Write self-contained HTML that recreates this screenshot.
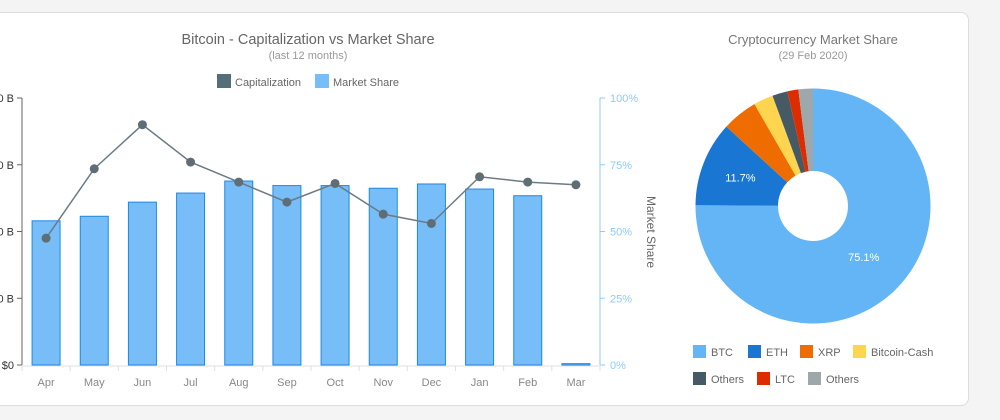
<!DOCTYPE html>
<html><head><meta charset="utf-8"><style>
html,body{margin:0;padding:0;background:#f4f4f4;width:1000px;height:420px;overflow:hidden;font-family:"Liberation Sans",sans-serif}
#card{position:absolute;left:-20px;top:12px;width:987px;height:392px;background:#fff;border:1px solid #ddd;border-radius:8px}
svg{position:absolute;left:0;top:0}
</style></head><body>
<div id="card"></div>
<svg id="s" width="1000" height="420"></svg>
<script>
const months=["Apr","May","Jun","Jul","Aug","Sep","Oct","Nov","Dec","Jan","Feb","Mar"];
const shareValues=[54,55.7,61,64.4,68.9,67.2,67.2,66.2,67.8,65.9,63.4,0.5];
const capValues=[95,147,180,152,137,122,136,113,106,141,137,135];
const capTicks=[0,50,100,150,200];
const capTickLabels=["$0","$50 B","$100 B","$150 B","$200 B"];
const shareTicks=[0,25,50,75,100];
const pieLabels=["BTC","ETH","XRP","Bitcoin-Cash","Others","LTC","Others"];
const pieValues=[75.1,11.7,4.9,2.7,2.1,1.5,2.0];
const pieColors=["#64b5f6","#1976d2","#ef6c00","#ffd54f","#455a64","#dd2c00","#9ea7aa"];

const s=document.getElementById('s');const NS='http://www.w3.org/2000/svg';
function mk(tag,a,txt){const e=document.createElementNS(NS,tag);for(const k in a)e.setAttribute(k,a[k]);if(txt!==undefined)e.textContent=txt;s.appendChild(e);return e;}
const X0=22,X1=600,Y0=365,Y1=98;const bw=(X1-X0)/months.length;
const xc=i=>X0+bw*(i+0.5);
const yL=v=>Y0-(v/200)*(Y0-Y1);
const yR=v=>Y0-(v/100)*(Y0-Y1);
let e;
e=mk('text',{x:308,y:44,'text-anchor':'middle','font-size':14.5,fill:'#666'},'Bitcoin - Capitalization vs Market Share');

e=mk('text',{x:308,y:59,'text-anchor':'middle','font-size':11,fill:'#999'},'(last 12 months)');

e=mk('rect',{x:217,y:74,width:14,height:14,fill:'#546e7a'});

e=mk('text',{x:235,y:86,'font-size':11,fill:'#666'},'Capitalization');

e=mk('rect',{x:315,y:74,width:14,height:14,fill:'#77bdf7'});

e=mk('text',{x:333,y:86,'font-size':11,fill:'#666'},'Market Share');

e=mk('line',{x1:X0,y1:Y1,x2:X0,y2:Y0,stroke:'#666','stroke-width':1});

capTicks.forEach((t,i)=>{mk('line',{x1:X0-5,x2:X0,y1:yL(t),y2:yL(t),stroke:'#666'});
e=mk('text',{x:X0-8,y:yL(t)+4,'text-anchor':'end','font-size':11,fill:'#333'},capTickLabels[i]);
});
e=mk('line',{x1:X1,y1:Y1,x2:X1,y2:Y0,stroke:'#90caf9','stroke-width':1});

shareTicks.forEach(t=>{mk('line',{x1:X1,x2:X1+5,y1:yR(t),y2:yR(t),stroke:'#90caf9'});
e=mk('text',{x:X1+10,y:yR(t)+4,'font-size':11,fill:'#90caf9'},t+'%');
});
e=mk('text',{x:647,y:232,'font-size':12,fill:'#666','text-anchor':'middle',transform:'rotate(90 647 232)'},'Market Share');

e=mk('line',{x1:X0,y1:Y0+1,x2:X1,y2:Y0+1,stroke:'#e0e0e0','stroke-width':1});

months.forEach((m,i)=>{mk('line',{x1:X0+bw*i,x2:X0+bw*i,y1:Y0+1,y2:Y0+6,stroke:'#e0e0e0'});
e=mk('text',{x:xc(i),y:Y0+21,'text-anchor':'middle','font-size':11,fill:'#888'},m);
});
mk('line',{x1:X1,x2:X1,y1:Y0+1,y2:Y0+6,stroke:'#e0e0e0'});
shareValues.forEach((v,i)=>{const y=yR(v);
e=mk('rect',{x:xc(i)-14,y:y,width:28,height:Math.max(Y0-y,1),fill:'#77bdf7',stroke:'#1e88e5','stroke-width':1});
});
e=mk('polyline',{points:capValues.map((v,i)=>xc(i)+','+yL(v)).join(' '),fill:'none',stroke:'#6b7b83','stroke-width':1.5});

capValues.forEach((v,i)=>{e=mk('circle',{cx:xc(i),cy:yL(v),r:4.5,fill:'#5f6e75'});
});
e=mk('text',{x:813,y:44,'text-anchor':'middle','font-size':13,fill:'#777'},'Cryptocurrency Market Share');

e=mk('text',{x:813,y:59,'text-anchor':'middle','font-size':11,fill:'#999'},'(29 Feb 2020)');

const cx=813,cy=206,R=117.5,r=35;const tot=pieValues.reduce((a,b)=>a+b,0);
let a0=-Math.PI/2;
pieValues.forEach((v,i)=>{const a1=a0+v/tot*2*Math.PI;const lg=(a1-a0)>Math.PI?1:0;
const p=(rad,a)=>(cx+rad*Math.cos(a))+','+(cy+rad*Math.sin(a));
e=mk('path',{d:`M${p(R,a0)} A${R},${R} 0 ${lg} 1 ${p(R,a1)} L${p(r,a1)} A${r},${r} 0 ${lg} 0 ${p(r,a0)} Z`,fill:pieColors[i]});

if(v>10){const am=(a0+a1)/2;const lr=i==0?72:78;
e=mk('text',{x:cx+lr*Math.cos(am),y:cy+lr*Math.sin(am)+4,'text-anchor':'middle','font-size':11,fill:'#fff'},v.toFixed(1)+'%');
}
a0=a1;});
const lpos=[[693,345],[748,345],[800,345],[853,345],[693,372],[757,372],[808,372]];
pieLabels.forEach((l,i)=>{const [x,y]=lpos[i];
e=mk('rect',{x:x,y:y,width:13,height:13,fill:pieColors[i]});

e=mk('text',{x:x+18,y:y+11,'font-size':11,fill:'#666'},l);
});
</script>
</body></html>
